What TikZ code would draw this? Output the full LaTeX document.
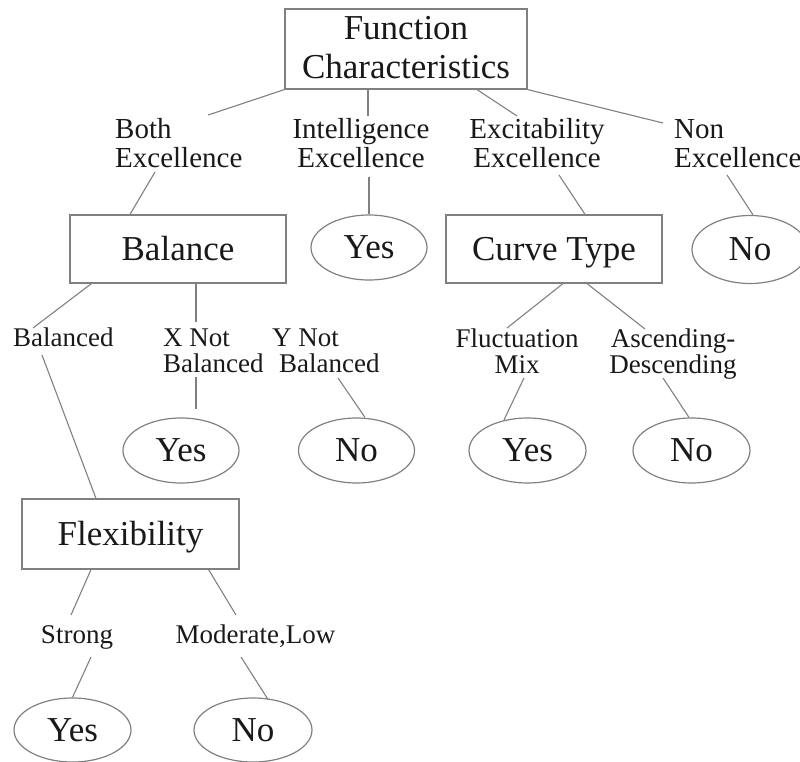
\documentclass[tikz,border=0pt]{standalone}
\usepackage{fontspec}
\setmainfont{Liberation Serif}
\usetikzlibrary{shapes.geometric}
\definecolor{linegray}{RGB}{128,128,128}
\definecolor{textblack}{RGB}{25,25,25}
\newcommand\bigtxt{\fontsize{35}{39}\selectfont}
\newcommand\toplab{\fontsize{29}{27}\selectfont}
\newcommand\lowlab{\fontsize{27}{26}\selectfont}
\newcommand\twoc[2]{\begin{tabular}[t]{@{}c@{}}#1\\#2\end{tabular}}
\newcommand\twol[2]{\begin{tabular}[t]{@{}l@{}}#1\\#2\end{tabular}}
\begin{document}
\begin{tikzpicture}[x=1pt,y=-1pt,
  box/.style={draw=linegray,line width=1.2pt,rectangle,inner sep=0pt,font=\bigtxt,text=textblack,text height=28pt,text depth=6pt},
  oval/.style={draw=linegray,line width=1.2pt,ellipse,inner sep=0pt,font=\bigtxt,text=textblack,text height=28pt,text depth=6pt,minimum width=116pt,minimum height=65pt},
  lab/.style={inner sep=0pt,text=textblack},
  conn/.style={draw=linegray,line width=1.1pt}]
\useasboundingbox (0,0) rectangle (800,762);
% boxes
\node[box,minimum width=242pt,minimum height=80pt,text height=30pt,text depth=48pt] (fc) at (406,49) {\twoc{Function}{Characteristics}};
\node[box,minimum width=216pt,minimum height=68pt] (bal) at (178,249) {Balance};
\node[box,minimum width=216pt,minimum height=68pt] (ct) at (554,249) {Curve Type};
\node[box,minimum width=217pt,minimum height=70pt] (flex) at (130.5,534) {Flexibility};
% ellipses
\node[oval] (y1) at (369,247.5) {Yes};
\node[oval,minimum height=68pt] (n1) at (750,249.5) {No};
\node[oval] (y2) at (181,450.5) {Yes};
\node[oval] (n2) at (356.5,450.5) {No};
\node[oval,minimum width=117pt] (y3) at (527.5,450.5) {Yes};
\node[oval,minimum width=117pt] (n3) at (691.5,450.5) {No};
\node[oval,minimum width=117pt,minimum height=64pt] (y4) at (72.5,730) {Yes};
\node[oval,minimum width=118pt,minimum height=64pt] (n4) at (253,730) {No};
% labels
\node[lab,font=\toplab,anchor=base west] (both) at (115,139) {\twol{Both}{Excellence}};
\node[lab,font=\toplab,anchor=base] (intel) at (361,139) {\twoc{Intelligence}{Excellence}};
\node[lab,font=\toplab,anchor=base] (excit) at (537,139) {\twoc{Excitability}{Excellence}};
\node[lab,font=\toplab,anchor=base west] (non) at (674,139) {\twol{Non}{Excellence}};
\node[lab,font=\lowlab,anchor=base west] (balanced) at (13,346) {Balanced};
\node[lab,font=\lowlab,anchor=base west] (xnot) at (163,346) {\twol{X Not}{Balanced}};
\node[lab,font=\lowlab,anchor=base west] (ynot) at (272,346) {\twol{Y Not}{\hspace*{7pt}Balanced}};
\node[lab,font=\lowlab,anchor=base] (fluct) at (517,347) {\twoc{Fluctuation}{Mix}};
\node[lab,font=\lowlab,anchor=base] (ascend) at (673,347) {\twoc{Ascending-}{Descending}};
\node[lab,font=\lowlab,anchor=base] (strong) at (77,643) {Strong};
\node[lab,font=\lowlab,anchor=base] (moder) at (255.5,643) {Moderate,Low};
% connectors
\draw[conn] (fc.south west) -- ([shift={(93,-24)}]both.base west);
\draw[conn] ([shift={(-38,0)}]fc.south) -- ([shift={(7,-23)}]intel.base);
\draw[conn] ([shift={(71,0)}]fc.south) -- ([shift={(-20,-23)}]excit.base);
\draw[conn] (fc.south east) -- ([shift={(-11,-16)}]non.base west);
\draw[conn] ([shift={(40,33)}]both.base west) -- ([shift={(-48,0)}]bal.north);
\draw[conn] ([shift={(8,38)}]intel.base) -- (y1.north);
\draw[conn] ([shift={(22,36)}]excit.base) -- ([shift={(31,0)}]ct.north);
\draw[conn] ([shift={(53,36)}]non.base west) -- ([shift={(3,0)}]n1.north);
\draw[conn] ([shift={(22,0)}]bal.south west) -- ([shift={(20,-18)}]balanced.base west);
\draw[conn] ([shift={(29,9)}]balanced.base west) -- ([shift={(-34.5,0)}]flex.north);
\draw[conn] ([shift={(18,0)}]bal.south) -- ([shift={(33,-24)}]xnot.base west);
\draw[conn] ([shift={(33,31)}]xnot.base west) -- ([shift={(15,-8)}]y2.north);
\draw[conn] ([shift={(66,32)}]ynot.base west) -- ([shift={(8.5,0)}]n2.north);
\draw[conn] ([shift={(9,0)}]ct.south) -- ([shift={(-10,-19)}]fluct.base);
\draw[conn] ([shift={(33,0)}]ct.south) -- ([shift={(-28,-18)}]ascend.base);
\draw[conn] ([shift={(7,31)}]fluct.base) -- ([shift={(-23.5,2.5)}]y3.north);
\draw[conn] ([shift={(-10,31)}]ascend.base) -- ([shift={(-2.5,0)}]n3.north);
\draw[conn] ([shift={(-39.5,0)}]flex.south) -- ([shift={(-6,-28)}]strong.base);
\draw[conn] ([shift={(-31,0)}]flex.south east) -- ([shift={(-19.5,-28)}]moder.base);
\draw[conn] ([shift={(14,14)}]strong.base) -- (y4.north);
\draw[conn] ([shift={(-14.5,14)}]moder.base) -- ([shift={(15,2)}]n4.north);
\end{tikzpicture}
\end{document}
